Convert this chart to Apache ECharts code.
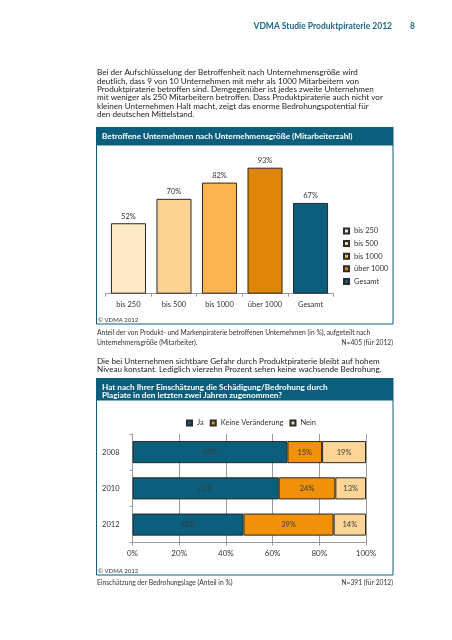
<!DOCTYPE html>
<html><head><meta charset="utf-8">
<script src="https://cdn.jsdelivr.net/npm/echarts@6/dist/echarts.min.js"></script>
<style>html,body{margin:0;padding:0;background:#fff}#c{width:452px;height:640px}</style>
</head><body><div id="c"></div>
<script>
const headerText = 'VDMA Studie Produktpiraterie 2012';
const pageNo = '8';
const para1 = [
  'Bei der Aufschlüsselung der Betroffenheit nach Unternehmensgröße wird',
  'deutlich, dass 9 von 10 Unternehmen mit mehr als 1000 Mitarbeitern von',
  'Produktpiraterie betroffen sind. Demgegenüber ist jedes zweite Unternehmen',
  'mit weniger als 250 Mitarbeitern betroffen. Dass Produktpiraterie auch nicht vor',
  'kleinen Unternehmen Halt macht, zeigt das enorme Bedrohungspotential für',
  'den deutschen Mittelstand.'
];
const title1 = 'Betroffene Unternehmen nach Unternehmensgröße (Mitarbeiterzahl)';
const sizeCats = ['bis 250', 'bis 500', 'bis 1000', 'über 1000', 'Gesamt'];
const affected = [52, 70, 82, 93, 67];
const caption1 = [
  'Anteil der von Produkt- und Markenpiraterie betroffenen Unternehmen (in %), aufgeteilt nach',
  'Unternehmensgröße (Mitarbeiter).'
];
const n1 = 'N=405 (für 2012)';
const para2 = [
  'Die bei Unternehmen sichtbare Gefahr durch Produktpiraterie bleibt auf hohem',
  'Niveau konstant. Lediglich vierzehn Prozent sehen keine wachsende Bedrohung.'
];
const title2 = [
  'Hat nach Ihrer Einschätzung die Schädigung/Bedrohung durch',
  'Plagiate in den letzten zwei Jahren zugenommen?'
];
const years = ['2008', '2010', '2012'];
const answerNames = ['Ja', 'Keine Veränderung', 'Nein'];
const ja = [67, 62, 48];
const keine = [15, 24, 39];
const nein = [19, 13, 14];
const copyright = '© VDMA 2012';
const caption2 = 'Einschätzung der Bedrohungslage (Anteil in %)';
const n2 = 'N=391 (für 2012)';

const TEAL = '#0b5f7c';
const sizeColors = ['#fde8c8', '#fdd393', '#fbb352', '#df8507', TEAL];
const answerColors = [TEAL, '#f1910b', '#fdd596'];
const FONT = 'Lato';

const chart = echarts.init(document.getElementById('c'), null, {renderer: 'canvas'});

function txt(x, y, s, size, opts) {
  opts = opts || {};
  return {type: 'text', x: x, y: y, silent: true, z: 10,
    style: {text: s, fill: opts.fill || '#222', font: (opts.bold ? 'bold ' : '') + size + 'px ' + FONT,
      textAlign: opts.align || 'left', textVerticalAlign: 'middle'}};
}

const graphics = [];
graphics.push(txt(392, 26, headerText, 8.5, {bold: true, fill: '#1b6886', align: 'right'}));
graphics.push(txt(412.5, 26, pageNo, 8.5, {bold: true, fill: '#1b6886', align: 'center'}));
para1.forEach((l, i) => graphics.push(txt(97, 72.5 + 8.4 * i, l, 8.15, {})));
graphics.push({type: 'rect', shape: {x: 96, y: 127, width: 297.5, height: 18}, style: {fill: TEAL}, silent: true});
graphics.push(txt(102, 136, title1, 8.2, {bold: true, fill: '#fff'}));
graphics.push({type: 'rect', shape: {x: 96.5, y: 145, width: 296.5, height: 179}, style: {fill: 'none', stroke: TEAL, lineWidth: 1}, silent: true});
graphics.push(txt(98, 320, copyright, 6, {fill: '#333'}));
caption1.forEach((l, i) => graphics.push(txt(97, 333.3 + 9.4 * i, l, 6.7, {fill: '#333'})));
graphics.push(txt(393, 342.7, n1, 6.7, {fill: '#333', align: 'right'}));
para2.forEach((l, i) => graphics.push(txt(97, 361 + 8.5 * i, l, 8.15, {})));
graphics.push({type: 'rect', shape: {x: 96, y: 378, width: 297.5, height: 22}, style: {fill: TEAL}, silent: true});
title2.forEach((l, i) => graphics.push(txt(102, 387 + 8 * i, l, 8.2, {bold: true, fill: '#fff'})));
graphics.push({type: 'rect', shape: {x: 96.5, y: 400, width: 296.5, height: 175}, style: {fill: 'none', stroke: TEAL, lineWidth: 1}, silent: true});
graphics.push(txt(98, 571.5, copyright, 6, {fill: '#333'}));
graphics.push(txt(97, 582.7, caption2, 6.7, {fill: '#333'}));
graphics.push(txt(393, 582.7, n2, 6.7, {fill: '#333', align: 'right'}));

const series = [];
sizeCats.forEach((name, i) => {
  series.push({
    type: 'bar', name: name, stack: 'size', xAxisIndex: 0, yAxisIndex: 0,
    barWidth: '77%',
    data: sizeCats.map((c, j) => j === i ? affected[i] : '-'),
    itemStyle: {color: sizeColors[i], borderColor: '#2a2a2a', borderWidth: 1},
    label: {show: true, position: 'top', distance: 3, formatter: '{c}%', color: '#333', fontSize: 7.5, fontFamily: FONT}
  });
});
const answers = [ja, keine, nein];
answers.forEach((arr, k) => {
  series.push({
    type: 'bar', name: answerNames[k], stack: 'ans', xAxisIndex: 1, yAxisIndex: 1,
    barWidth: '61%',
    data: arr.map((v, j) => v / (ja[j] + keine[j] + nein[j]) * 100),
    itemStyle: {color: answerColors[k], borderColor: '#2a2a2a', borderWidth: 1},
    label: {show: true, position: 'inside', color: '#3a3a3a', fontSize: 7.5, fontFamily: FONT,
      formatter: p => arr[p.dataIndex] + '%'}
  });
});

chart.setOption({
  animation: false,
  textStyle: {fontFamily: FONT},
  graphic: graphics,
  legend: [
    {data: sizeCats, orient: 'vertical', left: 338, top: 222, itemWidth: 5, itemHeight: 5, itemGap: 4.6,
      icon: 'rect', textStyle: {fontSize: 7.5, color: '#333', lineHeight: 8, fontFamily: FONT}},
    {data: answerNames, orient: 'horizontal', left: 181, top: 414, itemWidth: 5, itemHeight: 5, itemGap: 6,
      icon: 'rect', textStyle: {fontSize: 7.5, color: '#333', fontFamily: FONT}}
  ],
  grid: [
    {left: 105.7, right: 118.7, top: 158.2, bottom: 346.3},
    {left: 132.5, right: 86, top: 434, bottom: 97.3}
  ],
  xAxis: [
    {type: 'category', gridIndex: 0, data: sizeCats,
      axisLine: {lineStyle: {color: '#9a9a9a'}}, axisTick: {show: true, length: 3, lineStyle: {color: '#9a9a9a'}},
      axisLabel: {color: '#333', fontSize: 7.5, margin: 7}},
    {type: 'value', gridIndex: 1, min: 0, max: 100, interval: 20,
      axisLine: {show: true, lineStyle: {color: '#9a9a9a'}}, axisTick: {show: true, length: 3, lineStyle: {color: '#9a9a9a'}},
      splitLine: {show: true, lineStyle: {color: '#9a9a9a'}},
      axisLabel: {color: '#333', fontSize: 8, margin: 7, formatter: '{value}%'}}
  ],
  yAxis: [
    {type: 'value', gridIndex: 0, min: 0, max: 100, show: false},
    {type: 'category', gridIndex: 1, data: years, inverse: true,
      axisLine: {lineStyle: {color: '#9a9a9a'}}, axisTick: {show: true, length: 3, lineStyle: {color: '#9a9a9a'}},
      axisLabel: {color: '#333', fontSize: 7.5, margin: 13}}
  ],
  series: series
});
</script></body></html>
